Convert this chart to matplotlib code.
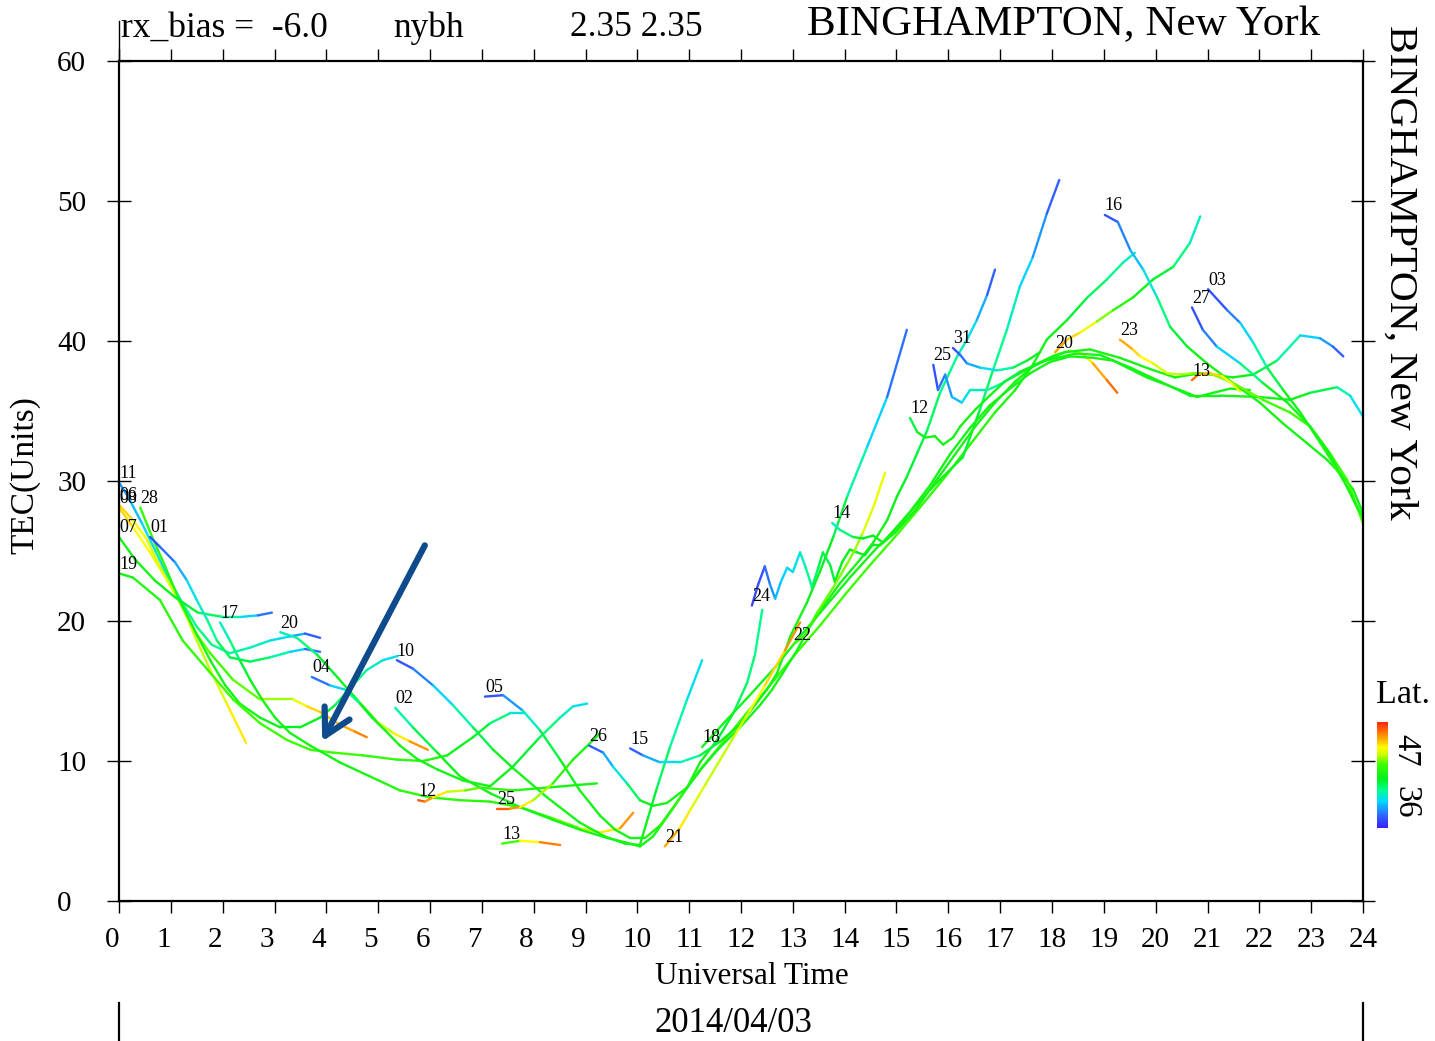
import matplotlib
matplotlib.use("Agg")
import matplotlib.pyplot as plt
import numpy as np
from matplotlib.collections import LineCollection
from matplotlib.colors import LinearSegmentedColormap, Normalize
from matplotlib.lines import Line2D

plt.rcParams["font.family"] = ["Liberation Serif", "DejaVu Serif"]

# Satellite arcs for station nybh, 2014/04/03
# t_* = universal time (h), tec_* = TEC units, lat_* = pierce point latitude (deg)

t_11 = [0.00, 0.17, 0.44, 0.69, 0.95, 1.22, 1.50, 1.79, 2.14, 2.53, 2.91, 3.30, 3.59, 3.88]
tec_11 = [29.9, 28.9, 27.0, 25.1, 23.1, 21.3, 19.6, 18.3, 17.7, 18.1, 18.6, 18.9, 19.1, 18.8]
lat_11 = [33, 34, 35, 36, 36, 37, 38, 38, 37, 37, 36, 35, 33, 31]

t_08 = [0.00, 0.27, 0.60, 0.93, 1.23, 1.50, 1.76, 2.08, 2.45]
tec_08 = [28.1, 26.7, 24.9, 22.9, 21.0, 18.6, 16.5, 14.1, 11.3]
lat_08 = [48, 47, 46, 46, 45, 45, 45, 46, 48]

t_06 = [0.00, 0.27, 0.54, 0.79, 1.12, 1.43, 1.76, 2.20, 2.72, 3.36, 3.63, 3.88, 4.26, 4.55, 4.78]
tec_06 = [28.3, 27.2, 25.8, 23.9, 21.7, 19.4, 17.7, 15.8, 14.4, 14.4, 13.9, 13.5, 12.6, 12.1, 11.7]
lat_06 = [48, 47, 46, 45, 44, 44, 43, 43, 44, 45, 47, 48, 48, 49, 50]

t_28 = [0.41, 0.64, 0.89, 1.14, 1.33, 1.52, 1.76, 2.05, 2.33, 2.72, 3.11, 3.49, 3.88, 4.17, 4.46, 4.78, 5.09, 5.38]
tec_28 = [28.1, 26.0, 23.9, 21.7, 20.3, 18.9, 17.2, 15.4, 14.1, 13.1, 12.4, 12.4, 13.1, 14.0, 15.2, 16.5, 17.2, 17.5]
lat_28 = [43, 42, 42, 41, 41, 41, 41, 41, 41, 41, 40, 40, 40, 39, 38, 37, 36, 35]

t_07 = [0.00, 0.31, 0.69, 1.08, 1.52, 1.99, 2.37, 2.68, 2.95]
tec_07 = [26.0, 24.4, 22.9, 21.7, 20.6, 20.3, 20.3, 20.4, 20.6]
lat_07 = [41, 41, 41, 40, 39, 38, 36, 34, 31]

t_01 = [0.60, 0.79, 1.08, 1.31, 1.50, 1.70, 1.89, 2.14, 2.53, 2.91, 3.30, 3.59, 3.88]
tec_01 = [26.0, 25.3, 24.2, 22.9, 21.5, 20.1, 18.6, 17.4, 17.1, 17.4, 17.8, 18.0, 17.8]
lat_01 = [31, 32, 33, 35, 36, 37, 38, 39, 39, 38, 36, 34, 31]

t_19 = [0.00, 0.27, 0.79, 1.23, 1.76, 2.20, 2.72, 3.24, 3.69, 4.13, 4.71, 5.36, 5.87, 6.33, 6.83, 7.16, 7.54, 7.83]
tec_19 = [23.4, 23.1, 21.5, 18.6, 16.3, 14.4, 12.7, 11.5, 10.8, 10.6, 10.4, 10.1, 10.0, 10.4, 11.7, 12.7, 13.4, 13.4]
lat_19 = [41, 41, 42, 42, 43, 43, 43, 43, 43, 43, 43, 42, 42, 41, 40, 39, 37, 35]

t_17 = [1.95, 2.14, 2.33, 2.53, 2.76, 3.01, 3.30, 3.69, 4.26, 4.84, 5.42, 6.00, 6.58, 7.16, 7.74, 8.37, 8.89, 9.28, 9.67, 9.92]
tec_17 = [19.9, 18.6, 17.2, 15.8, 14.4, 13.1, 12.0, 11.1, 9.9, 8.9, 7.9, 7.4, 7.2, 7.1, 6.7, 5.9, 5.2, 4.9, 5.2, 6.3]
lat_17 = [36, 37, 39, 40, 41, 41, 41, 41, 41, 41, 42, 42, 42, 42, 42, 43, 44, 46, 48, 50]

t_20a = [3.11, 3.43, 3.82, 4.21, 4.59, 4.98, 5.29, 5.61, 5.96]
tec_20a = [19.2, 18.8, 17.6, 16.0, 14.4, 12.8, 12.0, 11.4, 10.8]
lat_20a = [36, 37, 39, 40, 41, 44, 46, 48, 50]

t_04 = [3.72, 4.07, 4.36, 4.65, 4.88, 5.13, 5.42, 5.77, 6.14, 6.64, 7.16, 7.60, 8.12, 8.51, 8.76, 9.03]
tec_04 = [16.0, 15.4, 15.1, 14.1, 13.1, 12.2, 11.1, 10.1, 9.4, 8.6, 8.2, 9.6, 11.7, 13.1, 13.9, 14.1]
lat_04 = [31, 34, 36, 39, 41, 41, 41, 41, 41, 41, 41, 40, 39, 37, 36, 35]

t_10 = [5.36, 5.67, 6.06, 6.44, 6.83, 7.22, 7.60, 8.26, 8.89, 9.38, 9.76, 10.05, 10.21, 10.38, 10.63, 10.96, 11.25]
tec_10 = [17.2, 16.6, 15.4, 14.0, 12.4, 10.8, 9.5, 7.4, 5.6, 4.6, 4.1, 4.0, 6.0, 8.1, 11.0, 14.4, 17.2]
lat_10 = [31, 32, 34, 36, 38, 40, 41, 41, 41, 41, 41, 41, 40, 39, 38, 36, 35]

t_02 = [5.33, 5.67, 6.14, 6.58, 7.16, 7.74, 8.37, 8.89, 9.42, 9.76, 10.05, 10.30, 10.63, 10.96, 11.21, 11.54, 11.85, 12.12, 12.27, 12.41]
tec_02 = [13.8, 12.4, 10.6, 8.9, 7.7, 6.7, 5.8, 5.1, 4.5, 4.2, 3.9, 4.6, 6.3, 8.1, 9.9, 11.5, 13.4, 15.6, 17.6, 20.8]
lat_02 = [36, 38, 40, 41, 41, 41, 41, 41, 41, 41, 41, 41, 41, 41, 41, 40, 39, 38, 38, 37]

t_05 = [7.06, 7.41, 7.79, 8.12, 8.51, 8.89, 9.28, 9.57, 9.86, 10.15, 10.44, 10.79, 11.17, 11.60, 12.08, 12.56,
        13.04, 13.53, 14.01, 14.49, 14.97, 15.45, 15.94, 16.42, 16.90, 17.29, 17.63, 17.90, 18.29, 18.68, 19.06,
        19.37, 19.60]
tec_05 = [14.6, 14.7, 13.6, 12.2, 10.1, 7.9, 6.1, 5.1, 4.5, 4.5, 5.4, 7.2, 9.2, 11.1, 13.3, 15.4,
          17.6, 19.7, 21.9, 24.0, 26.0, 28.1, 30.3, 32.6, 34.9, 36.5, 38.3, 40.1, 41.5, 43.1, 44.4,
          45.6, 46.3]
lat_05 = [31, 32, 35, 38, 40, 41, 41, 41, 41, 41, 42, 42, 42, 43, 43, 43,
          43, 43, 43, 43, 43, 43, 42, 42, 42, 41, 41, 41, 40, 39, 38,
          37, 36]

t_12a = [5.77, 5.90, 6.06, 6.33, 6.68, 6.97, 7.60, 8.26, 8.89, 9.22]
tec_12a = [7.2, 7.1, 7.4, 7.8, 7.9, 8.1, 7.9, 8.1, 8.3, 8.4]
lat_12a = [51, 50, 48, 46, 44, 43, 42, 41, 41, 41]

t_25a = [7.29, 7.54, 7.74, 7.99, 8.37, 8.76, 9.15, 9.28]
tec_25a = [6.6, 6.6, 6.7, 7.2, 8.4, 10.1, 11.5, 12.0]
lat_25a = [51, 50, 48, 46, 43, 41, 41, 41]

t_13a = [7.39, 7.74, 8.12, 8.51]
tec_13a = [4.1, 4.3, 4.2, 4.0]
lat_13a = [41, 45, 48, 51]

t_26 = [9.07, 9.34, 9.53, 9.80, 10.05, 10.30, 10.57, 10.96, 11.27, 11.60, 11.98, 12.37, 12.60, 12.81, 13.08, 13.33,
        13.58, 13.91, 14.30, 14.55, 14.82, 15.01, 15.20, 15.40, 15.59, 15.84, 16.17, 16.36, 16.55, 16.75, 16.90]
tec_26 = [11.1, 10.6, 9.6, 8.4, 7.2, 6.8, 7.0, 8.1, 9.6, 11.0, 12.4, 14.0, 15.1, 16.3, 17.9, 19.6,
          21.0, 22.7, 24.4, 25.6, 27.2, 28.9, 30.3, 32.0, 33.6, 36.3, 38.9, 40.1, 41.5, 43.3, 45.1]
lat_26 = [31, 33, 35, 37, 40, 41, 41, 41, 41, 41, 41, 41, 41, 41, 41, 41,
          41, 41, 41, 41, 41, 40, 40, 39, 39, 38, 37, 36, 35, 33, 31]

t_15 = [9.86, 10.11, 10.44, 10.82, 11.21, 11.60, 11.98, 12.27, 12.50, 12.70, 12.95, 13.27, 13.53, 13.78, 14.05,
        14.43, 14.82, 15.20]
tec_15 = [10.9, 10.4, 9.9, 9.9, 10.4, 11.4, 12.6, 14.0, 15.1, 16.3, 18.9, 21.3, 23.6, 26.0, 28.9, 32.4, 36.0, 40.8]
lat_15 = [31, 33, 35, 36, 38, 40, 41, 41, 41, 41, 41, 41, 40, 40, 38, 36, 34, 31]

t_18 = [11.25, 11.69, 12.17, 12.66, 13.14, 13.62, 14.10, 14.59, 15.07, 15.45, 15.84, 16.28, 16.61, 16.86, 17.13,
        17.38, 17.63, 17.90, 18.14]
tec_18 = [11.0, 12.8, 14.7, 16.7, 18.9, 21.0, 23.1, 25.1, 26.9, 28.6, 30.1, 31.7, 35.1, 37.9, 40.8, 43.9, 46.0,
          49.1, 51.5]
lat_18 = [41, 41, 41, 41, 41, 41, 41, 41, 41, 41, 41, 40, 39, 38, 37, 36, 34, 33, 31]

t_21 = [10.53, 10.82, 11.02, 11.31, 11.60, 11.89, 12.17, 12.46, 12.85, 13.14]
tec_21 = [3.9, 5.2, 6.5, 8.3, 10.1, 11.9, 13.6, 15.4, 17.9, 19.9]
lat_21 = [49, 48, 46, 45, 45, 45, 46, 47, 48, 50]

t_24 = [12.21, 12.33, 12.46, 12.56, 12.66, 12.77, 12.89, 13.00, 13.14, 13.25, 13.37, 13.49, 13.58, 13.72, 13.81,
        13.95, 14.10, 14.24, 14.39, 14.53, 14.68, 14.97, 15.36, 15.74, 16.13, 16.52, 16.90, 17.29, 17.67, 18.06,
        18.35, 18.58, 18.79, 19.06, 19.26]
tec_24 = [21.1, 22.6, 23.9, 22.6, 21.6, 22.8, 23.8, 23.5, 24.9, 23.8, 22.4, 23.8, 24.9, 24.0, 22.8,
          24.2, 25.1, 24.9, 24.7, 25.4, 25.4, 26.3, 27.9, 29.9, 31.9, 33.9, 35.6, 37.1, 38.3, 39.0,
          39.3, 39.1, 38.4, 37.2, 36.3]
lat_24 = [31, 31, 32, 33, 34, 35, 35, 35, 36, 37, 38, 39, 39, 39, 40,
          40, 40, 40, 40, 40, 41, 41, 41, 41, 41, 41, 41, 41, 41, 42,
          44, 46, 48, 49, 51]

t_22 = [13.00, 13.24, 13.47, 13.78, 14.05, 14.20, 14.35, 14.55, 14.78]
tec_22 = [18.3, 19.0, 20.6, 22.4, 24.1, 25.1, 26.3, 28.1, 30.6]
lat_22 = [43, 43, 43, 44, 44, 44, 45, 46, 46]

t_14 = [13.76, 13.91, 14.16, 14.35, 14.55, 14.74, 14.93, 15.26, 15.65, 16.03, 16.42, 16.80, 17.19, 17.58, 17.96,
        18.35, 18.79, 19.18, 19.83, 20.47, 20.80, 21.11, 21.44, 21.82]
tec_14 = [27.0, 26.5, 26.0, 25.9, 26.1, 25.6, 26.4, 27.8, 29.7, 31.9, 33.8, 35.4, 36.6, 37.7, 38.5,
          38.9, 38.8, 38.6, 37.4, 36.5, 36.0, 36.3, 36.6, 36.5]
lat_14 = [36, 37, 39, 40, 40, 41, 41, 41, 41, 41, 41, 41, 41, 41, 41,
          41, 41, 41, 41, 41, 41, 41, 41, 41]

t_12b = [15.26, 15.40, 15.55, 15.74, 15.90, 16.09, 16.23, 16.52, 16.80, 17.09, 17.48, 17.87, 18.25, 18.73, 19.31,
         19.89, 20.37, 20.86, 21.49, 21.88, 22.34, 22.79, 23.17, 23.42, 23.62]
tec_12b = [34.5, 33.5, 33.1, 33.2, 32.6, 33.1, 33.9, 35.1, 36.1, 37.1, 37.9, 38.6, 39.2, 39.4, 38.8,
           38.0, 37.4, 37.7, 37.4, 37.6, 38.6, 40.4, 40.2, 39.6, 38.9]
lat_12b = [38, 40, 41, 41, 41, 41, 41, 41, 41, 41, 41, 41, 41, 41, 41,
           41, 41, 41, 41, 40, 38, 36, 34, 33, 31]

t_25b = [15.71, 15.80, 15.94, 16.07, 16.26, 16.42, 16.75, 17.00, 17.38, 17.87, 18.45, 18.93, 19.51, 20.09, 20.66,
         21.24, 22.01, 22.59, 22.98, 23.50, 23.75, 24.00]
tec_25b = [38.3, 36.5, 37.6, 36.0, 35.6, 36.5, 36.5, 36.9, 37.8, 38.6, 39.1, 39.0, 38.1, 37.1, 36.1,
           36.1, 36.0, 35.8, 36.3, 36.7, 36.1, 34.6]
lat_25b = [31, 32, 33, 34, 35, 36, 37, 38, 40, 41, 41, 41, 41, 41, 41,
           41, 41, 41, 40, 38, 36, 35]

t_31 = [16.09, 16.23, 16.36, 16.61, 16.94, 17.25, 17.52, 17.77]
tec_31 = [39.5, 39.0, 38.4, 38.1, 37.9, 38.1, 38.6, 39.2]
lat_31 = [31, 32, 33, 35, 36, 38, 40, 41]

t_20b = [18.06, 18.29, 18.54, 18.87, 19.18, 19.56, 19.95, 20.34, 20.66, 20.86]
tec_20b = [39.2, 40.1, 40.6, 41.4, 42.2, 43.1, 44.4, 45.3, 47.0, 48.9]
lat_20b = [49, 48, 47, 45, 43, 41, 40, 39, 37, 36]

t_16 = [19.02, 19.27, 19.51, 19.76, 20.03, 20.28, 20.61, 20.99, 21.49, 22.01, 22.46, 22.92, 23.31, 23.62, 23.81, 24.00]
tec_16 = [49.0, 48.5, 46.5, 45.1, 43.1, 41.0, 39.6, 38.4, 37.0, 35.6, 34.1, 32.7, 31.5, 30.3, 29.4, 27.7]
lat_16 = [31, 32, 34, 35, 37, 39, 40, 41, 41, 41, 41, 41, 41, 41, 41, 41]

t_23 = [19.31, 19.56, 19.70, 19.95, 20.22, 20.47, 20.72, 21.11, 21.49, 22.07, 22.59, 22.98, 23.36, 23.69, 24.00]
tec_23 = [40.1, 39.4, 38.9, 38.4, 37.7, 37.6, 37.7, 37.6, 37.0, 35.8, 34.9, 33.9, 32.0, 30.1, 27.0]
lat_23 = [49, 48, 47, 46, 45, 45, 44, 44, 44, 43, 43, 43, 43, 43, 43]

t_03 = [21.01, 21.38, 21.63, 21.88, 22.15, 22.46, 22.79, 23.11, 23.42, 23.69, 24.00]
tec_03 = [43.7, 42.2, 41.3, 39.9, 38.1, 36.5, 34.9, 33.1, 31.3, 29.6, 27.2]
lat_03 = [31, 32, 34, 36, 38, 40, 41, 41, 42, 43, 43]

t_27 = [20.70, 20.91, 21.18, 21.63, 22.07, 22.54, 22.98, 23.31, 23.62, 24.00]
tec_27 = [42.4, 40.8, 39.6, 38.4, 37.0, 35.6, 33.9, 32.2, 30.1, 27.4]
lat_27 = [31, 32, 34, 36, 40, 41, 41, 41, 41, 41]

t_13b = [20.70, 20.82, 21.05, 21.28, 21.49, 21.63]
tec_13b = [37.2, 37.6, 37.7, 37.5, 36.9, 36.4]
lat_13b = [51, 49, 48, 47, 46, 45]

arcs = [
    ("11", t_11, tec_11, lat_11), ("06", t_06, tec_06, lat_06), ("08", t_08, tec_08, lat_08),
    ("28", t_28, tec_28, lat_28), ("07", t_07, tec_07, lat_07), ("01", t_01, tec_01, lat_01),
    ("19", t_19, tec_19, lat_19), ("17", t_17, tec_17, lat_17), ("20", t_20a, tec_20a, lat_20a),
    ("04", t_04, tec_04, lat_04), ("10", t_10, tec_10, lat_10), ("02", t_02, tec_02, lat_02),
    ("05", t_05, tec_05, lat_05), ("12", t_12a, tec_12a, lat_12a), ("25", t_25a, tec_25a, lat_25a),
    ("13", t_13a, tec_13a, lat_13a), ("26", t_26, tec_26, lat_26), ("15", t_15, tec_15, lat_15),
    ("18", t_18, tec_18, lat_18), ("21", t_21, tec_21, lat_21), ("24", t_24, tec_24, lat_24),
    ("22", t_22, tec_22, lat_22), ("14", t_14, tec_14, lat_14), ("12", t_12b, tec_12b, lat_12b),
    ("25", t_25b, tec_25b, lat_25b), ("31", t_31, tec_31, lat_31), ("20", t_20b, tec_20b, lat_20b),
    ("16", t_16, tec_16, lat_16), ("23", t_23, tec_23, lat_23), ("03", t_03, tec_03, lat_03),
    ("27", t_27, tec_27, lat_27), ("13", t_13b, tec_13b, lat_13b),
]

hours = list(range(25))
tec_ticks = [0, 10, 20, 30, 40, 50, 60]
lat_ticks = [36, 47]
lat_min, lat_max = 29.5, 52.0
arrow_tail = (5.90, 25.4)
arrow_head = (3.92, 11.4)

# rainbow palette of the latitude bar (blue = south, red = north)
cmap = LinearSegmentedColormap.from_list("lat", [
    (0.00, "#3a22ff"), (0.12, "#2f66ff"), (0.25, "#00d8ff"), (0.36, "#00ff8c"),
    (0.46, "#00f020"), (0.60, "#3cff00"), (0.70, "#d2ff00"), (0.76, "#ffff00"),
    (0.86, "#ff9c00"), (1.00, "#ff2410"),
])
norm = Normalize(lat_min, lat_max)

W, H = 1435, 1041
fig = plt.figure(figsize=(W / 100, H / 100), dpi=100)
ax = fig.add_axes([119 / W, 1 - 901 / H, (1363 - 119) / W, (901 - 61) / H])

for name, t, tec, lat in arcs:
    pts = np.column_stack([t, tec])
    segs = np.stack([pts[:-1], pts[1:]], axis=1)
    lat = np.asarray(lat, dtype=float)
    lc = LineCollection(segs, cmap=cmap, norm=norm, linewidths=1.7, capstyle="round", joinstyle="round")
    lc.set_array((lat[:-1] + lat[1:]) / 2)
    ax.add_collection(lc)
    ax.annotate(name, (t[0], tec[0]), xytext=(6.5, 6.5), textcoords="offset points",
                ha="center", va="center", fontsize=13)

ax.annotate("", xy=arrow_head, xytext=arrow_tail,
            arrowprops=dict(arrowstyle="->,head_length=0.4,head_width=0.22", lw=4.5,
                            color="#0e4b8c", mutation_scale=46, shrinkA=0, shrinkB=0))

ax.set_xlim(0, 24)
ax.set_ylim(0, 60)
for sp in ax.spines.values():
    sp.set_linewidth(1.6)

ax.set_xticks(hours, labels=[str(h) for h in hours])
ax.set_xticks([0, 12, 24], minor=True)
ax.tick_params(axis="x", which="major", direction="out", length=8.6, width=1.0,
               top=True, bottom=True, labelsize=21, pad=10)
ax.tick_params(axis="x", which="minor", direction="out", length=19, width=1.0, top=True, bottom=True)
for lbl in ax.get_xticklabels():
    if len(lbl.get_text()) == 1:
        lbl.set_ha("right")

ax.set_yticks(tec_ticks, labels=[str(v) for v in tec_ticks])
ax.tick_params(axis="y", direction="inout", length=17, width=1.0, left=True, right=True,
               labelsize=21, pad=36)
for lbl in ax.get_yticklabels():
    lbl.set_ha("left")

# long tick at UT 0 above the frame
ax.plot([0, 0], [1.0, 1.048], transform=ax.get_xaxis_transform(), color="black", lw=1.0, clip_on=False)

fig.text(25 / W, 1 - 475 / H, "TEC(Units)", rotation=90, ha="center", va="center", fontsize=24)
fig.text(752 / W, 1 - 977 / H, "Universal Time", ha="center", va="center", fontsize=22.5)
fig.text(733 / W, 1 - 1024 / H, "2014/04/03", ha="center", va="center", fontsize=25)

fig.text(121 / W, 1 - 28 / H, "rx_bias =  -6.0", ha="left", va="center", fontsize=25.5)
fig.text(393 / W, 1 - 28 / H, "nybh", ha="left", va="center", fontsize=25.5)
fig.text(570 / W, 1 - 28 / H, "2.35 2.35", ha="left", va="center", fontsize=25.5)
fig.text(1320 / W, 1 - 25 / H, "BINGHAMPTON, New York", ha="right", va="center", fontsize=31)
fig.text(1400 / W, 1 - 25 / H, "BINGHAMPTON, New York", rotation=-90, ha="center", va="top", fontsize=29.8)

for x in (119, 1363):
    fig.add_artist(Line2D([x / W, x / W], [0, (H - 1003) / H], color="black", lw=1.6))

cax = fig.add_axes([1377 / W, 1 - 828 / H, 11 / W, 106 / H])
cb = fig.colorbar(plt.cm.ScalarMappable(norm=norm, cmap=cmap), cax=cax)
cb.outline.set_visible(False)
cb.set_ticks(lat_ticks)
cax.tick_params(length=0, pad=2, labelsize=23.5, labelrotation=-90)
fig.text(1403 / W, 1 - 695 / H, "Lat.", ha="center", va="center", fontsize=24.5)

fig.savefig("out.png", dpi=100, facecolor="white")
